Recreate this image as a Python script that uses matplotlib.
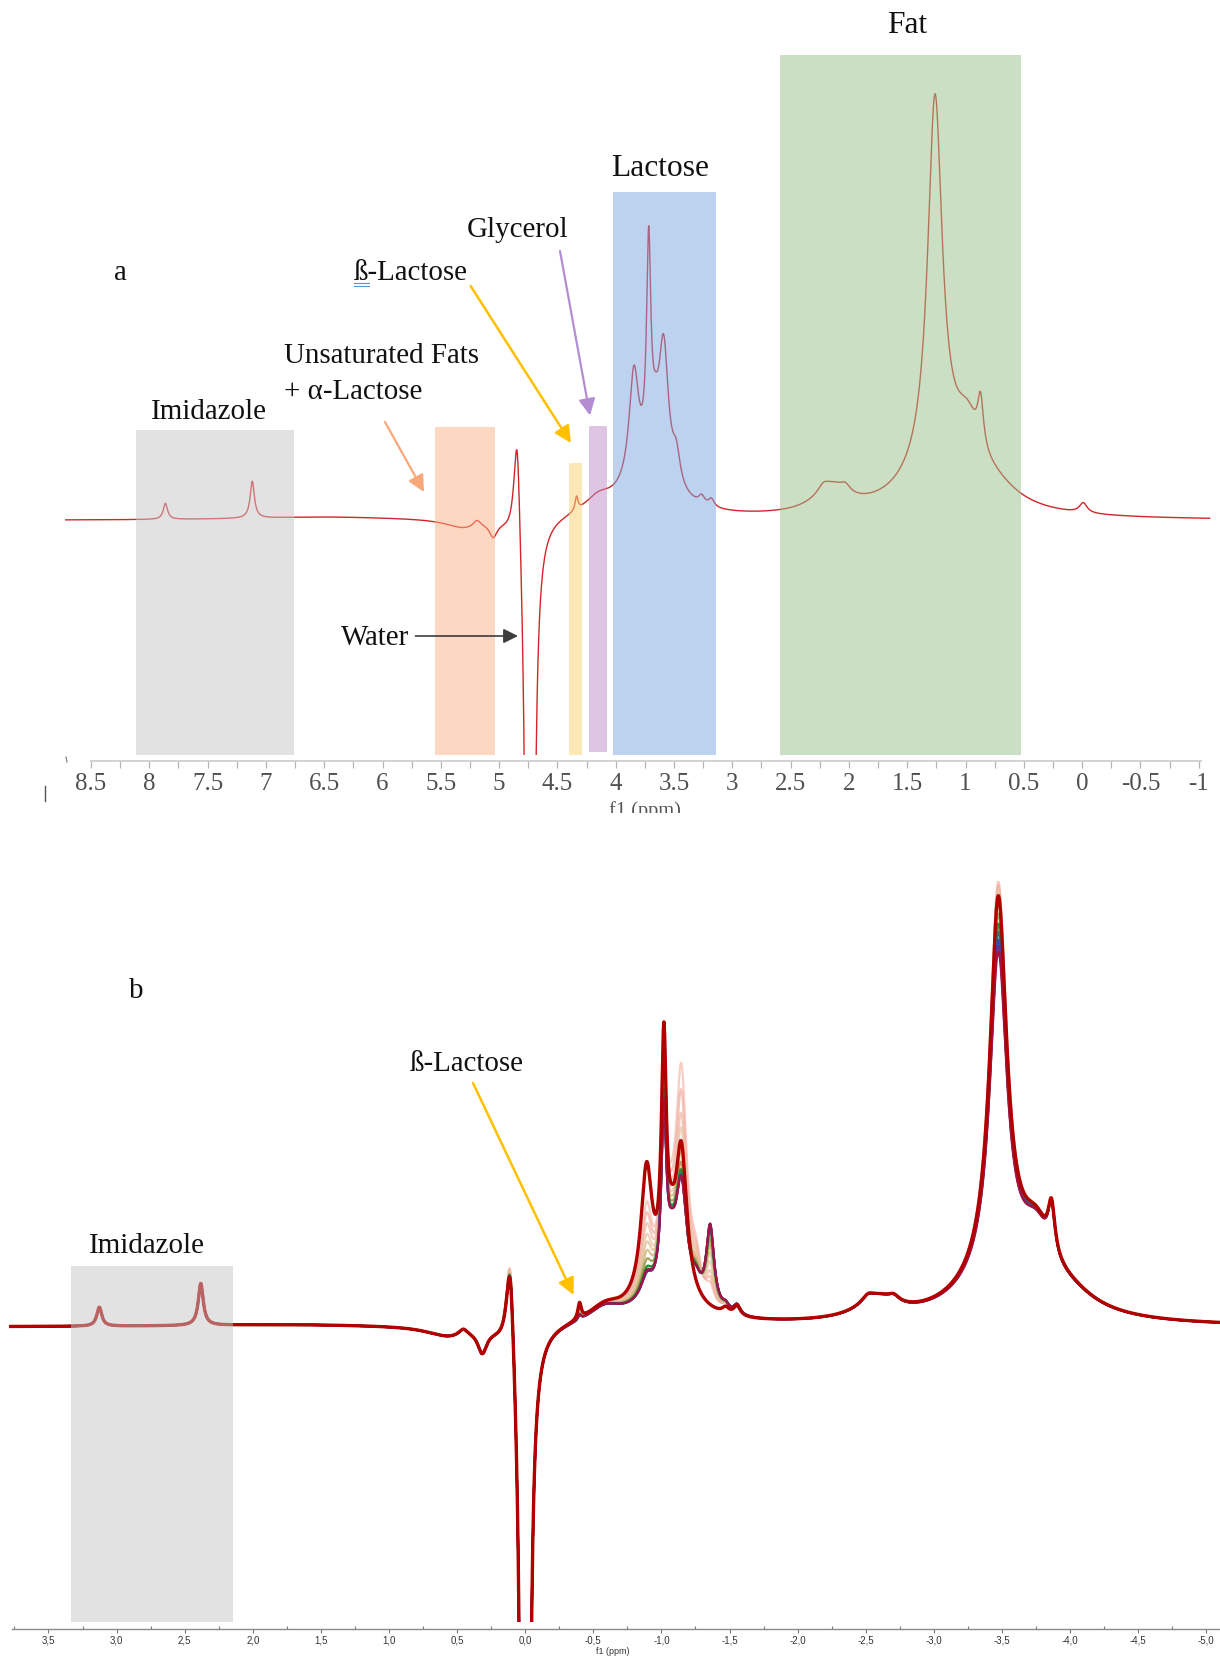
import numpy as np
import matplotlib
matplotlib.use("Agg")
import matplotlib.pyplot as plt
from matplotlib.patches import Rectangle, FancyArrowPatch
from matplotlib.transforms import Bbox
from matplotlib.lines import Line2D

plt.rcParams['axes.unicode_minus'] = False

# ---------------- data ----------------
# spectral components (ppm, half width, amplitude)
peak_names = ['imid1', 'imid2', 'arom_base', 'unsat_broad', 'unsat_bump', 'unsat_dip',
              'water_pos', 'water_neg', 'blac', 'glyc', 'lac_base', 'lac1', 'lac2', 'lac_mid',
              'lac3', 'lac4', 'lac5', 'lac6', 'lac7', 'fat_bb', 'fat_b1', 'fat_b2', 'fat_base',
              'fat_main', 'fat_sh', 'fat_side', 'fat_tail', 'tms']
peak_ppm = [7.862, 7.117, 6.5, 5.30, 5.19, 5.05, 4.845, 4.735, 4.336, 4.15, 3.72, 3.844,
            3.717, 3.66, 3.589, 3.48, 3.377, 3.263, 3.18, 2.15, 2.22, 2.03, 1.20, 1.262,
            0.98, 0.871, 0.75, -0.01]
peak_hwhm = [0.022, 0.022, 0.8, 0.20, 0.04, 0.04, 0.035, 0.012, 0.015, 0.15, 0.25, 0.05,
             0.022, 0.04, 0.05, 0.04, 0.035, 0.03, 0.03, 0.18, 0.05, 0.05, 0.35, 0.075,
             0.13, 0.03, 0.25, 0.04]
top_amp = [16, 37, 3, -9, 7, -14, 125, -5040, 14, 15, 38, 108, 211, 30, 133, 30, 0, 8, 8,
           25, 6, 7, 50, 365, 48, 48, 15, 10]
bottom_base_amp = [19, 42, 2, -10, 7, -22, 95, -5040, 10, 15, 25, 60, 200, 30, 140, 15, 50,
                   6, 10, 20, 6, 6, 50, 360, 48, 48, 15, 0]

# panel b: spectra series (pale -> green/blue -> final dark red)
b_lac1 = [85, 75, 65, 55, 48, 40, 32, 25, 22, 20, 20, 22, 128]
b_lac2 = [225, 222, 218, 212, 205, 198, 190, 180, 175, 172, 171, 170, 231]
b_lac3 = [221, 195, 172, 158, 145, 135, 125, 118, 114, 113, 112, 112, 145]
b_lac4 = [30, 28, 26, 24, 22, 20, 18, 16, 15, 15, 15, 15, 0]
b_lac5 = [15, 22, 30, 40, 50, 58, 66, 76, 80, 81, 82, 82, 0]
b_blac = [12, 11, 10, 9, 8, 7, 6, 5, 5, 5, 5, 5, 16]
b_fat = [384, 381, 378, 375, 370, 362, 352, 342, 334, 326, 320, 314, 370]
b_water = [114, 113, 112, 111, 110, 109, 108, 107, 107, 106, 106, 105, 105]
water_ref_ppm = 4.735   # panel b axis is referenced to the water signal

top_ticks = [8.5, 8, 7.5, 7, 6.5, 6, 5.5, 5, 4.5, 4, 3.5, 3, 2.5, 2, 1.5, 1, 0.5, 0, -0.5, -1]
bottom_ticks = [3.5, 3.0, 2.5, 2.0, 1.5, 1.0, 0.5, 0.0, -0.5, -1.0, -1.5, -2.0, -2.5, -3.0,
                -3.5, -4.0, -4.5, -5.0]

# highlighted regions (ppm low, ppm high, top intensity)
top_regions = {
    'grey':   (6.763, 8.117, 90.5),
    'orange': (5.036, 5.553, 93.5),
    'yellow': (4.290, 4.399, 57.5),
    'purple': (4.072, 4.226, 94.5),
    'blue':   (3.136, 4.027, 328.5),
    'green':  (0.527, 2.591, 465.5),
}
bottom_region = (2.145, 3.335, 61.4)

# ---------------- styles ----------------
region_colors = {'grey': '#c7c7c7', 'orange': '#fbb387', 'yellow': '#fbd371',
                 'purple': '#bf8dcb', 'blue': '#7ba7df', 'green': '#99c18d'}
b_colors = ['#f4b8ad', '#f1ad9e', '#eeb8a0', '#ecc2a4', '#e0c49a', '#cdb47c', '#9a9a4a',
            '#2b8a2b', '#1d7d6e', '#2e4fb8', '#6b2d8e', '#a3143f', '#b00000']
b_alpha = [0.7, 0.7, 0.7, 0.7, 0.8, 0.8, 0.9, 1, 1, 1, 1, 1, 1]
b_lw = [1.6] * 12 + [2.4]

SERIF = 'Liberation Serif'
SANS = 'Liberation Sans'
W, H = 1220, 1662


def lorentz_sum(x, centers, widths, amps):
    x = np.asarray(x)[:, None]
    c = np.asarray(centers)[None, :]
    w = np.asarray(widths)[None, :]
    a = np.asarray(amps)[None, :]
    return (a * w ** 2 / ((x - c) ** 2 + w ** 2)).sum(axis=1)


def fr(x0, y0, x1, y1):
    return [x0 / W, 1 - y1 / H, (x1 - x0) / W, (y1 - y0) / H]


def fx(x):
    return x / W


def fy(y):
    return 1 - y / H


fig = plt.figure(figsize=(W / 100, H / 100), dpi=100)

# ---------------- panel a ----------------
ax = fig.add_axes(fr(0, 0, W, 755))
ax.set_xlim(9.2805, -1.1826)
ax.set_ylim(-234.5, 520.5)
ppm = np.linspace(8.717, -1.093, 9000)
ax.plot(ppm, lorentz_sum(ppm, peak_ppm, peak_hwhm, top_amp), color='#d3262a', lw=1.0, zorder=2)
for name, (lo, hi, top) in top_regions.items():
    yb = -231.5 if name == 'purple' else -234.5
    ax.add_patch(Rectangle((lo, yb), hi - lo, top - yb, facecolor=region_colors[name],
                           edgecolor='none', alpha=0.5, zorder=3))
for s in ['top', 'left', 'right']:
    ax.spines[s].set_visible(False)
ax.patch.set_visible(False)
ax.yaxis.set_visible(False)
ax.spines['bottom'].set_position(('outward', 4))
ax.spines['bottom'].set_bounds(-1.02, 8.5)
ax.spines['bottom'].set_color('#cfcfcf')
ax.spines['bottom'].set_linewidth(1.3)
ax.set_xticks(top_ticks)
ax.set_xticklabels([f'{t:g}' for t in top_ticks], family=SERIF, fontsize=18, color='#505050')
ax.set_xticks(np.arange(-0.75, 8.5, 0.5), minor=True)
ax.tick_params(axis='x', which='both', direction='out', length=5, width=0.9, color='#b5b5b5', pad=4)

t = fig.text(fx(644.5), fy(816), 'f1 (ppm)', ha='center', va='baseline', family=SERIF,
             fontsize=14.7, color='#555555')
t.set_clip_box(Bbox.from_extents(0, H - 813, W, H))
t.set_clip_on(True)


def label(x, y, s, size=20.9, ha='center'):
    fig.text(fx(x), fy(y), s, ha=ha, va='baseline', family=SERIF, fontsize=size, color='#111111')


label(907, 33, 'Fat', 22.7)
label(660, 176, 'Lactose', 22.7)
label(518, 237, 'Glycerol')
label(411, 280, 'ß-Lactose')
label(284, 363, 'Unsaturated Fats', ha='left')
label(284, 399, '+ α-Lactose', ha='left')
label(209, 419, 'Imidazole')
label(409, 645, 'Water', ha='right')
label(120, 280, 'a')
label(136, 998, 'b')
label(147, 1253, 'Imidazole')
label(467, 1071, 'ß-Lactose')

for yy in (283, 286):
    fig.add_artist(Line2D([fx(354), fx(369)], [fy(yy), fy(yy)], color='#5b8fd6', lw=0.8))
fig.add_artist(Line2D([fx(44.5), fx(44.5)], [fy(786), fy(801)], color='#555555', lw=1.0))
fig.add_artist(Line2D([fx(66), fx(67)], [fy(757), fy(762)], color='#777777', lw=0.8))


def arrow(x0, y0, x1, y1, color, lw, ms=25):
    fig.add_artist(FancyArrowPatch((fx(x0), fy(y0)), (fx(x1), fy(y1)), transform=fig.transFigure,
                                   arrowstyle='-|>', mutation_scale=ms, color=color, lw=lw,
                                   shrinkA=0, shrinkB=0))


arrow(415.5, 636, 518, 636, '#3d3d3d', 1.2, 22)
arrow(385, 422, 424, 492, '#f7a77a', 1.6)
arrow(470.6, 286, 571, 443, '#ffc000', 1.8)
arrow(560, 251, 590, 415.5, '#b48cd2', 1.6)
arrow(473, 1083, 573.5, 1295, '#ffc000', 1.8)

# ---------------- panel b ----------------
bx = fig.add_axes(fr(0, 830, W, 1622))
bx.set_xlim(3.856, -5.101)
bx.set_ylim(-295, 497)
v = np.linspace(3.778, -5.101, 9000)
idx = {n: i for i, n in enumerate(peak_names)}
centers_b = [p - water_ref_ppm for p in peak_ppm]
for i in range(len(b_colors)):
    amps = list(bottom_base_amp)
    amps[idx['lac1']] = b_lac1[i]
    amps[idx['lac2']] = b_lac2[i]
    amps[idx['lac3']] = b_lac3[i]
    amps[idx['lac4']] = b_lac4[i]
    amps[idx['lac5']] = b_lac5[i]
    amps[idx['blac']] = b_blac[i]
    amps[idx['fat_main']] = b_fat[i]
    amps[idx['water_pos']] = b_water[i]
    bx.plot(v, lorentz_sum(v, centers_b, peak_hwhm, amps), color=b_colors[i],
            lw=b_lw[i], alpha=b_alpha[i], zorder=2 + i * 0.01)
lo, hi, top = bottom_region
bx.add_patch(Rectangle((lo, -295), hi - lo, top + 295, facecolor=region_colors['grey'],
                       edgecolor='none', alpha=0.5, zorder=3))
for s in ['top', 'left', 'right']:
    bx.spines[s].set_visible(False)
bx.patch.set_visible(False)
bx.yaxis.set_visible(False)
bx.spines['bottom'].set_position(('outward', 4.8))
bx.spines['bottom'].set_bounds(-5.101, 3.768)
bx.spines['bottom'].set_color('#8a8a8a')
bx.spines['bottom'].set_linewidth(1.0)
bx.set_xticks(bottom_ticks)
bx.set_xticklabels([f'{t:.1f}'.replace('.', ',') for t in bottom_ticks], family=SANS,
                   fontsize=7, color='#333333')
bx.set_xticks(np.arange(-4.75, 3.76, 0.5), minor=True)
bx.tick_params(axis='x', which='major', direction='out', length=3, width=0.8, color='#777777', pad=2)
bx.tick_params(axis='x', which='minor', direction='in', length=2.5, width=0.8, color='#777777')
fig.text(fx(613), fy(1654), 'f1 (ppm)', ha='center', va='baseline', family=SANS, fontsize=6.5,
         color='#333333')

fig.savefig('out.png', dpi=100)
